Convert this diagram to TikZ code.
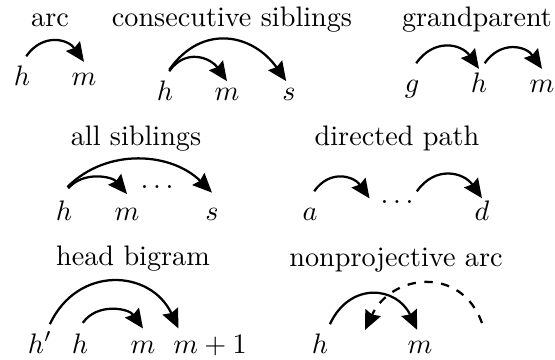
\documentclass[tikz,border=0pt]{standalone}
\usetikzlibrary{arrows.meta, positioning}
\tikzstyle{title} = [inner sep=0pt, anchor=base]
\tikzstyle{word} = [inner sep=0pt, text height=7pt, text depth=2pt, anchor=base]
\tikzstyle{deparc} = [thick, -{Stealth[length=6.8pt,width=6pt,inset=0.8pt]}, out=55, in=125, looseness=1.25]
\begin{document}
\begin{tikzpicture}[x=0.3546pt, y=0.3546pt]
    \useasboundingbox (0,0) rectangle (555,-360);

    % arc
    \node (tarc) [title] at (50,-26) {arc};
    \node (h1) [word] at (22,-85) {$h$};
    \node (m1) [word] at (84,-85) {$m$};
    \draw [deparc] ([xshift=1.5pt,yshift=3pt]h1.north) to ([yshift=1pt]m1.north);

    % consecutive siblings
    \node (tcons) [title] at (232,-26) {consecutive siblings};
    \node (h2) [word] at (165,-100) {$h$};
    \node (m2) [word] at (227,-100) {$m$};
    \node (s2) [word] at (289,-100) {$s$};
    \draw [deparc] ([xshift=1.5pt,yshift=3pt]h2.north) to ([yshift=-0.5pt]m2.north);
    \draw [deparc] ([xshift=1.5pt,yshift=3.5pt]h2.north) to ([xshift=-1pt,yshift=-0.5pt]s2.north);

    % grandparent
    \node (tgrand) [title] at (477,-26) {grandparent};
    \node (g3) [word] at (412,-92) {$g$};
    \node (h3) [word] at (479,-92) {$h$};
    \node (m3) [word] at (542,-92) {$m$};
    \draw [deparc] ([xshift=1.5pt,yshift=3pt]g3.north) to ([yshift=1pt]h3.north);
    \draw [deparc] ([xshift=2pt,yshift=3pt]h3.north) to ([yshift=1pt]m3.north);

    % all siblings
    \node (tall) [title] at (136,-145) {all siblings};
    \node (h4) [word] at (64,-220) {$h$};
    \node (m4) [word] at (127,-220) {$m$};
    \node (d4) [word] at (157,-188.5) {$\ldots$};
    \node (s4) [word] at (212,-220) {$s$};
    \draw [deparc, out=50, in=130, looseness=1] ([xshift=1.5pt,yshift=4pt]h4.north) to ([yshift=2pt]m4.north);
    \draw [deparc, out=45, in=135, looseness=1] ([xshift=1.2pt,yshift=4.5pt]h4.north) to ([yshift=2.5pt]s4.north);

    % directed path
    \node (tpath) [title] at (397,-145) {directed path};
    \node (a5) [word] at (310,-220) {$a$};
    \node (d5) [word] at (397,-203.5) {$\ldots$};
    \node (e5) [word] at (482,-220) {$d$};
    \draw [deparc] ([xshift=1.5pt,yshift=3pt]a5.north) to ([xshift=-3.7pt,yshift=-0.7pt]d5.west);
    \draw [deparc] ([xshift=1pt,yshift=1.8pt]d5.east) to ([yshift=0.5pt]e5.north);

    % head bigram
    \node (thead) [title] at (133,-265) {head bigram};
    \node (hp6) [word] at (40,-353) {$h'$};
    \node (h6) [word] at (80,-353) {$h$};
    \node (m6) [word] at (143,-353) {$m$};
    \node (mp6) [word] at (210,-353) {$m+1$};
    \draw [deparc, out=55, in=125, looseness=1.05] ([xshift=1pt,yshift=3.5pt]h6.north) to ([yshift=1.5pt]m6.north);
    \draw [deparc, out=65, in=115, looseness=1.3] ([xshift=3.5pt,yshift=3pt]hp6.north) to ([xshift=2pt,yshift=1.5pt]mp6.north west);

    % nonprojective arc
    \node (tnonp) [title] at (396,-266) {nonprojective arc};
    \node (h7) [word] at (320,-353) {$h$};
    \node (m7) [word] at (420,-353) {$m$};
    \coordinate (q7) at (482,-323);
    \coordinate (r7) at (365,-330);
    \draw [deparc, out=65, in=115, looseness=1.4] ([xshift=3.5pt,yshift=3pt]h7.north) to ([xshift=-1pt,yshift=1pt]m7.north);
    \draw [deparc, dashed, out=110, in=65, looseness=1.35] (q7) to (r7);
\end{tikzpicture}
\end{document}
